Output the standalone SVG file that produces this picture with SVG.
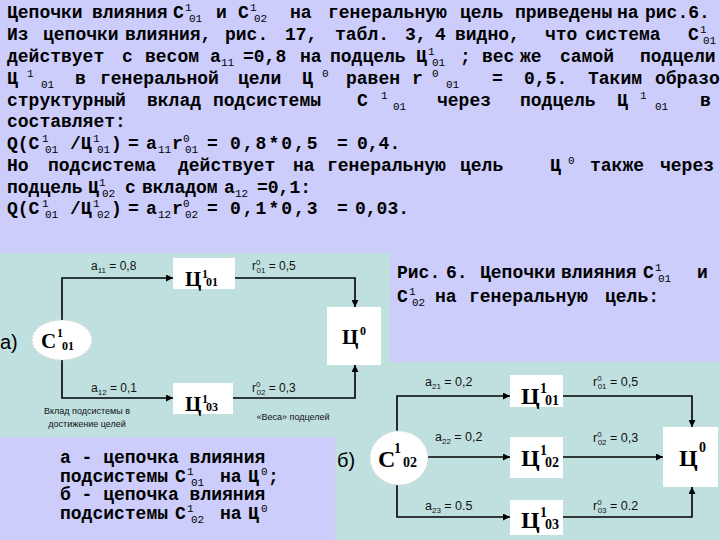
<svg xmlns="http://www.w3.org/2000/svg" width="720" height="540" viewBox="0 0 720 540">
<defs>
<style>
.t{font-family:"Liberation Mono","Courier New",monospace;font-weight:bold;font-size:18px;fill:#000}
.s{font-size:11px;font-weight:normal}
.l{font-family:"Liberation Sans",Arial,sans-serif;font-size:12px;fill:#111}
.l2{font-family:"Liberation Sans",Arial,sans-serif;font-size:12.5px;fill:#111}
.ls{font-size:8px}
.sm{font-family:"Liberation Sans",Arial,sans-serif;font-size:9px;fill:#111}
.big{font-family:"Liberation Sans",Arial,sans-serif;font-size:20px;fill:#000}
.c{font-family:"Liberation Serif","Times New Roman",serif;font-weight:bold;fill:#000}
.box{fill:#fff;stroke:none}
.ell{fill:#fff;stroke:#d8d8d8;stroke-width:1.2;stroke-dasharray:2 2}
.ln{fill:none;stroke:#000;stroke-width:1.6}
.panel{fill:#c0e0e0}
</style>
<marker id="ar" viewBox="0 0 10 10" refX="10" refY="5" markerWidth="7" markerHeight="7" markerUnits="userSpaceOnUse" orient="auto">
<path d="M0,0 L10,5 L0,10 z" fill="#000"/>
</marker>
</defs>
<rect width="720" height="540" fill="#cccdfb"/>
<rect class="panel" x="0" y="253" width="390" height="184"/>
<rect class="panel" x="335" y="362" width="385" height="178"/>

<g id="text-top">
<text class="t" y="18"><tspan x="7" y="18">Цепочки</tspan><tspan x="92" y="18">влияния</tspan><tspan x="173" y="18">C</tspan><tspan class="s" x="185" y="11">1</tspan><tspan class="s" x="189" y="22">01</tspan><tspan x="216" y="18">и</tspan><tspan x="238" y="18">C</tspan><tspan class="s" x="250" y="11">1</tspan><tspan class="s" x="254" y="22">02</tspan><tspan x="290" y="18">на</tspan><tspan x="328" y="18">генеральную</tspan><tspan x="460" y="18">цель</tspan><tspan x="515" y="18">приведены</tspan><tspan x="617" y="18">на</tspan><tspan x="645" y="18">рис.6.</tspan></text>
<text class="t" y="40"><tspan x="7" y="40">Из</tspan><tspan x="43" y="40">цепочки</tspan><tspan x="125" y="40">влияния,</tspan><tspan x="225" y="40">рис.</tspan><tspan x="285" y="40">17,</tspan><tspan x="335" y="40">табл.</tspan><tspan x="405" y="40">3,</tspan><tspan x="435" y="40">4</tspan><tspan x="455" y="40">видно,</tspan><tspan x="545" y="40">что</tspan><tspan x="585" y="40">система</tspan><tspan x="688" y="40">C</tspan><tspan class="s" x="700" y="33">1</tspan><tspan class="s" x="703" y="44">01</tspan></text>
<text class="t" y="62"><tspan x="7" y="62">действует</tspan><tspan x="122" y="62">с</tspan><tspan x="145" y="62">весом</tspan><tspan x="210" y="62">a</tspan><tspan class="s" x="221" y="66">11</tspan><tspan x="243" y="62">=0,8</tspan><tspan x="300" y="62">на</tspan><tspan x="330" y="62">подцель</tspan><tspan x="416" y="62">Ц</tspan><tspan class="s" x="428" y="55">1</tspan><tspan class="s" x="432" y="66">01</tspan><tspan x="460" y="62">;</tspan><tspan x="482" y="62">вес</tspan><tspan x="520" y="62">же</tspan><tspan x="560" y="62">самой</tspan><tspan x="640" y="62">подцели</tspan></text>
<text class="t" y="84"><tspan x="7" y="84">Ц</tspan><tspan class="s" x="27" y="77">1</tspan><tspan class="s" x="41" y="88">01</tspan><tspan x="75" y="84">в</tspan><tspan x="100" y="84">генеральной</tspan><tspan x="238" y="84">цели</tspan><tspan x="302" y="84">Ц</tspan><tspan class="s" x="322" y="77">0</tspan><tspan x="346" y="84">равен</tspan><tspan x="412" y="84">r</tspan><tspan class="s" x="432" y="77">0</tspan><tspan class="s" x="446" y="88">01</tspan><tspan x="492" y="84">=</tspan><tspan x="524" y="84">0,5.</tspan><tspan x="588" y="84">Таким</tspan><tspan x="655" y="84">образо</tspan></text>
<text class="t" y="106"><tspan x="7" y="106">структурный</tspan><tspan x="147" y="106">вклад</tspan><tspan x="213" y="106">подсистемы</tspan><tspan x="357" y="106">C</tspan><tspan class="s" x="381" y="99">1</tspan><tspan class="s" x="393" y="110">01</tspan><tspan x="437" y="106">через</tspan><tspan x="520" y="106">подцель</tspan><tspan x="617" y="106">Ц</tspan><tspan class="s" x="640" y="99">1</tspan><tspan class="s" x="655" y="110">01</tspan><tspan x="700" y="106">в</tspan></text>
<text class="t" x="7" y="127">составляет:</text>
<text class="t" y="149"><tspan x="7" y="149">Q(C</tspan><tspan class="s" x="42" y="142">1</tspan><tspan class="s" x="45" y="153">01</tspan><tspan x="70" y="149">/Ц</tspan><tspan class="s" x="93" y="142">1</tspan><tspan class="s" x="97" y="153">01</tspan><tspan x="111" y="149">)</tspan><tspan x="128" y="149">=</tspan><tspan x="146" y="149">a</tspan><tspan class="s" x="158" y="153">11</tspan><tspan x="172" y="149">r</tspan><tspan class="s" x="183" y="142">0</tspan><tspan class="s" x="185" y="153">01</tspan><tspan x="207" y="149">=</tspan><tspan x="230" y="149" letter-spacing="2">0,8*0,5</tspan><tspan x="337" y="149">=</tspan><tspan x="357" y="149">0,4.</tspan></text>
<text class="t" y="171"><tspan x="7" y="171">Но</tspan><tspan x="48" y="171">подсистема</tspan><tspan x="178" y="171">действует</tspan><tspan x="293" y="171">на</tspan><tspan x="327" y="171">генеральную</tspan><tspan x="460" y="171">цель</tspan><tspan x="550" y="171">Ц</tspan><tspan class="s" x="568" y="164">0</tspan><tspan x="590" y="171">также</tspan><tspan x="660" y="171">через</tspan></text>
<text class="t" y="193"><tspan x="7" y="193">подцель</tspan><tspan x="88" y="193">Ц</tspan><tspan class="s" x="99" y="186">1</tspan><tspan class="s" x="102" y="197">02</tspan><tspan x="125" y="193">с</tspan><tspan x="142" y="193">вкладом</tspan><tspan x="224" y="193">a</tspan><tspan class="s" x="235" y="197">12</tspan><tspan x="257" y="193">=0,1:</tspan></text>
<text class="t" y="214"><tspan x="7" y="214">Q(C</tspan><tspan class="s" x="42" y="207">1</tspan><tspan class="s" x="45" y="218">01</tspan><tspan x="70" y="214">/Ц</tspan><tspan class="s" x="93" y="207">1</tspan><tspan class="s" x="97" y="218">02</tspan><tspan x="111" y="214">)</tspan><tspan x="128" y="214">=</tspan><tspan x="146" y="214">a</tspan><tspan class="s" x="158" y="218">12</tspan><tspan x="172" y="214">r</tspan><tspan class="s" x="183" y="207">0</tspan><tspan class="s" x="185" y="218">02</tspan><tspan x="207" y="214">=</tspan><tspan x="230" y="214" letter-spacing="2">0,1*0,3</tspan><tspan x="337" y="214">=</tspan><tspan x="355" y="214">0,03.</tspan></text>
</g>

<g id="caption-right">
<text class="t" y="278"><tspan x="397" y="278">Рис.</tspan><tspan x="446" y="278">6.</tspan><tspan x="480" y="278">Цепочки</tspan><tspan x="561" y="278">влияния</tspan><tspan x="643" y="278">C</tspan><tspan class="s" x="655" y="271">1</tspan><tspan class="s" x="658" y="282">01</tspan><tspan x="697" y="278">и</tspan></text>
<text class="t" y="302"><tspan x="397" y="302">C</tspan><tspan class="s" x="409" y="295">1</tspan><tspan class="s" x="412" y="306">02</tspan><tspan x="435" y="302">на</tspan><tspan x="469" y="302">генеральную</tspan><tspan x="605" y="302">цель:</tspan></text>
</g>

<g id="caption-bottom">
<text class="t" x="60" y="463">а - цепочка влияния</text>
<text class="t" y="482"><tspan x="60" y="482">подсистемы</tspan><tspan x="175" y="482">C</tspan><tspan class="s" x="187" y="475">1</tspan><tspan class="s" x="191" y="486">01</tspan><tspan x="220" y="482">на</tspan><tspan x="248" y="482">Ц</tspan><tspan class="s" x="261" y="475">0</tspan><tspan x="268" y="482">;</tspan></text>
<text class="t" x="60" y="500">б - цепочка влияния</text>
<text class="t" y="519"><tspan x="60" y="519">подсистемы</tspan><tspan x="175" y="519">C</tspan><tspan class="s" x="187" y="512">1</tspan><tspan class="s" x="191" y="523">02</tspan><tspan x="220" y="519">на</tspan><tspan x="248" y="519">Ц</tspan><tspan class="s" x="261" y="512">0</tspan></text>
</g>

<g id="connectors">
<path class="ln" d="M62,320 V278 H173" marker-end="url(#ar)"/>
<path class="ln" d="M235,278 H355 V307" marker-end="url(#ar)"/>
<path class="ln" d="M62,360 V398 H173" marker-end="url(#ar)"/>
<path class="ln" d="M233,398 H355 V365" marker-end="url(#ar)"/>
<path class="ln" d="M397,431 V396 H510" marker-end="url(#ar)"/>
<path class="ln" d="M428,457 H510" marker-end="url(#ar)"/>
<path class="ln" d="M397,485 V517 H510" marker-end="url(#ar)"/>
<path class="ln" d="M563,396 H692 V427" marker-end="url(#ar)"/>
<path class="ln" d="M563,457 H663" marker-end="url(#ar)"/>
<path class="ln" d="M563,517 H692 V487" marker-end="url(#ar)"/>
</g>

<g id="labels-a">
<text class="big" x="0" y="349">a)</text>
<text class="l" x="91" y="270">a<tspan class="ls" dy="3">11</tspan><tspan dy="-3"> = 0,8</tspan></text>
<text class="l" x="252" y="270">r<tspan class="ls" dy="-5">0</tspan><tspan class="ls" dx="-4" dy="8">01</tspan><tspan dy="-3"> = 0,5</tspan></text>
<text class="l" x="91" y="392">a<tspan class="ls" dy="3">12</tspan><tspan dy="-3"> = 0,1</tspan></text>
<text class="l" x="252" y="392">r<tspan class="ls" dy="-5">0</tspan><tspan class="ls" dx="-4" dy="8">02</tspan><tspan dy="-3"> = 0,3</tspan></text>
<text class="sm" x="87" y="414" text-anchor="middle">Вклад подсистемы в</text>
<text class="sm" x="87" y="427" text-anchor="middle">достижение целей</text>
<text class="sm" x="293" y="420" text-anchor="middle">«Веса» подцелей</text>
</g>

<g id="labels-b">
<text class="big" x="337" y="467">б)</text>
<text class="l2" x="425" y="386">a<tspan class="ls" dy="3">21</tspan><tspan dy="-3"> = 0,2</tspan></text>
<text class="l2" x="435" y="441">a<tspan class="ls" dy="3">22</tspan><tspan dy="-3"> = 0,2</tspan></text>
<text class="l2" x="425" y="510">a<tspan class="ls" dy="3">23</tspan><tspan dy="-3"> = 0.5</tspan></text>
<text class="l2" x="593" y="386">r<tspan class="ls" dy="-5">0</tspan><tspan class="ls" dx="-4" dy="8">01</tspan><tspan dy="-3"> = 0,5</tspan></text>
<text class="l2" x="593" y="442">r<tspan class="ls" dy="-5">0</tspan><tspan class="ls" dx="-4" dy="8">02</tspan><tspan dy="-3"> = 0,3</tspan></text>
<text class="l2" x="593" y="510">r<tspan class="ls" dy="-5">0</tspan><tspan class="ls" dx="-4" dy="8">03</tspan><tspan dy="-3"> = 0.2</tspan></text>
</g>

<g id="node-a-C101">
<ellipse class="ell" cx="62" cy="340" rx="30" ry="20"/>
<text class="c" font-size="21" x="41" y="348">C</text>
<text class="c" font-size="12" x="57" y="337">1</text>
<text class="c" font-size="12" x="62" y="350">01</text>
</g>
<g id="node-a-Ts101">
<rect class="box" x="173" y="258" width="62" height="31"/>
<text class="c" font-size="21" x="185" y="286">Ц</text>
<text class="c" font-size="12" x="202" y="278">1</text>
<text class="c" font-size="12" x="206" y="286">01</text>
</g>
<g id="node-a-Ts103">
<rect class="box" x="173" y="383" width="60" height="31"/>
<text class="c" font-size="21" x="185" y="411">Ц</text>
<text class="c" font-size="12" x="202" y="403">1</text>
<text class="c" font-size="12" x="206" y="411">03</text>
</g>
<g id="node-a-Ts0">
<rect class="box" x="327" y="307" width="54" height="58"/>
<text class="c" font-size="21" x="342" y="344">Ц</text>
<text class="c" font-size="12" x="360" y="335">0</text>
</g>

<g id="node-b-C102">
<ellipse class="ell" cx="399" cy="458" rx="29" ry="27"/>
<text class="c" font-size="24" x="378" y="467">C</text>
<text class="c" font-size="14" x="394" y="453">1</text>
<text class="c" font-size="14" x="403" y="467">02</text>
</g>
<g id="node-b-Ts101">
<rect class="box" x="510" y="375" width="53" height="32"/>
<text class="c" font-size="24" x="521" y="404">Ц</text>
<text class="c" font-size="14" x="540" y="393">1</text>
<text class="c" font-size="14" x="545" y="405">01</text>
</g>
<g id="node-b-Ts102">
<rect class="box" x="510" y="437" width="53" height="41"/>
<text class="c" font-size="24" x="521" y="466">Ц</text>
<text class="c" font-size="14" x="540" y="455">1</text>
<text class="c" font-size="14" x="545" y="467">02</text>
</g>
<g id="node-b-Ts103">
<rect class="box" x="510" y="500" width="53" height="35"/>
<text class="c" font-size="24" x="521" y="528">Ц</text>
<text class="c" font-size="14" x="540" y="517">1</text>
<text class="c" font-size="14" x="545" y="529">03</text>
</g>
<g id="node-b-Ts0">
<rect class="box" x="663" y="427" width="55" height="60"/>
<text class="c" font-size="24" x="679" y="466">Ц</text>
<text class="c" font-size="14" x="699" y="452">0</text>
</g>
</svg>
